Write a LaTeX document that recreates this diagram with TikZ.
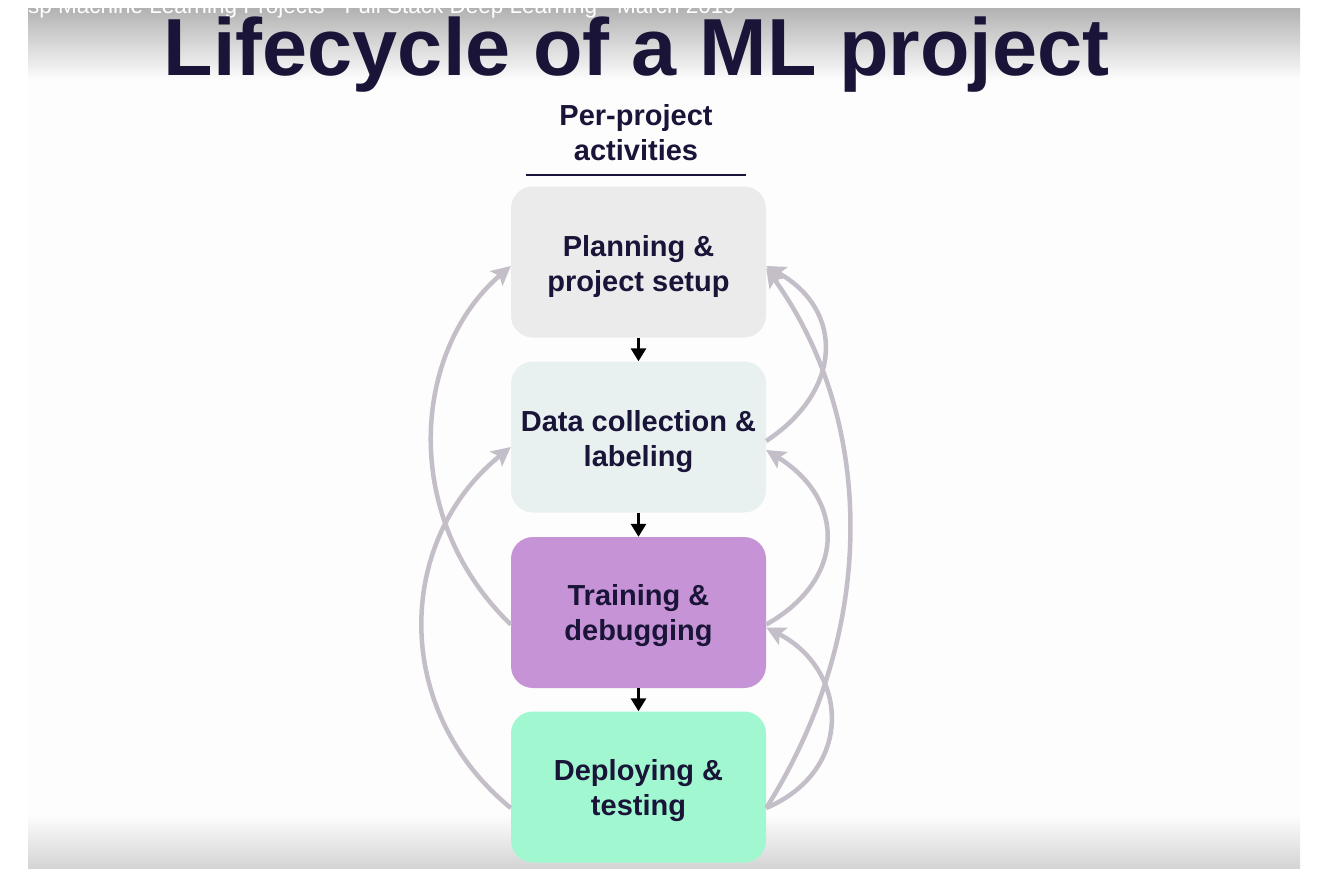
\documentclass[tikz,border=0pt]{standalone}
\usepackage{fontspec}
\setmainfont{Liberation Sans}
\usetikzlibrary{arrows.meta}
\definecolor{ink}{HTML}{1A1438}
\definecolor{loopgray}{HTML}{C4BEC8}
\definecolor{planfill}{HTML}{ECEBEC}
\definecolor{datafill}{HTML}{E8F1F0}
\definecolor{trainfill}{HTML}{C694D6}
\definecolor{deployfill}{HTML}{A1F8D0}
\definecolor{slidebg}{HTML}{FDFDFD}
\definecolor{topgray}{HTML}{B2B2B2}
\definecolor{botgray}{HTML}{D4D4D4}
\begin{document}
\begin{tikzpicture}[x=1pt,y=-1pt,
  stagebox/.style={rounded corners=22pt, minimum width=255pt, minimum height=151pt,
    inner sep=0pt},
  stagetext/.style={inner sep=0pt, align=center, font=\fontsize{29}{35}\selectfont\bfseries, text=ink},
  flow/.style={-{Triangle[length=13pt,width=15pt]}, line width=3pt, black},
  back/.style={-{Stealth[length=19pt,width=19pt,inset=4pt]}, line width=4.5pt, loopgray}]
% background
\useasboundingbox (0,0) rectangle (1336,868);
\fill[white] (0,0) rectangle (1336,868);
\fill[slidebg] (28,8) rectangle (1300,868);
\shade[top color=topgray, bottom color=slidebg] (28,8) rectangle (1300,80);
\shade[top color=slidebg, bottom color=botgray] (28,815) rectangle (1300,868);
% overlay caption (clipped by the slide edge)
\begin{scope}
  \clip (28,8) rectangle (1300,868);
  \node[anchor=base west, inner sep=0pt, text=white, font=\fontsize{22.5}{22.5}\selectfont]
    (overlay) at (28,13) {sp Machine Learning Projects - Full Stack Deep Learning - March 2019};
\end{scope}
% title
\node[anchor=base, inner sep=0pt, text=ink, font=\fontsize{81}{81}\selectfont\bfseries]
  (title) at (636.5,75) {Lifecycle of a ML project};
% header
\node[align=center, inner sep=0pt, text=ink, font=\fontsize{29}{35}\selectfont\bfseries]
  (hdr) at (636,133) {Per-project\\activities};
\coordinate (ul1) at (526,175);
\coordinate (ul2) at (746,175);
\draw[ink, line width=2.5pt] (ul1) -- (ul2);
% stages
\node[stagebox, fill=planfill] (plan) at (638.5,262) {};
\node[stagebox, fill=datafill] (data) at (638.5,437) {};
\node[stagebox, fill=trainfill] (train) at (638.5,612.5) {};
\node[stagebox, fill=deployfill] (deploy) at (638.5,787) {};
\node[stagetext] (plantxt) at ([yshift=-4pt]plan.center) {Planning \&\\project setup};
\node[stagetext] (datatxt) at ([yshift=-4.5pt]data.center) {Data collection \&\\labeling};
\node[stagetext] (traintxt) at ([yshift=-3.5pt]train.center) {Training \&\\debugging};
\node[stagetext] (deploytxt) at ([yshift=-4pt]deploy.center) {Deploying \&\\testing};
% forward arrows
\draw[flow] (plan.south) -- (data.north);
\draw[flow] (data.south) -- (train.north);
\draw[flow] (train.south) -- (deploy.north);
% feedback loops, left
\draw[back] ([yshift=-12pt]train.west) .. controls +(-112,-108) and +(-98,84) .. ([yshift=-4pt]plan.west);
\draw[back] ([yshift=-21pt]deploy.west) .. controls +(-120,-98) and +(-115,93) .. ([yshift=-10pt]data.west);
% feedback loops, right
\draw[back] ([yshift=-4pt]data.east) .. controls +(77,-51) and +(78,44) .. ([yshift=-4pt]plan.east);
\draw[back] ([yshift=-12pt]train.east) .. controls +(80,-45) and +(80,50) .. ([yshift=-13pt]data.east);
\draw[back] ([yshift=-21pt]deploy.east) .. controls +(89,-38) and +(82,42) .. ([yshift=-15pt]train.east);
\draw[back] ([yshift=-21pt]deploy.east) .. controls +(114,-180) and +(108,150) .. ([yshift=-6pt]plan.east);
\end{tikzpicture}
\end{document}
